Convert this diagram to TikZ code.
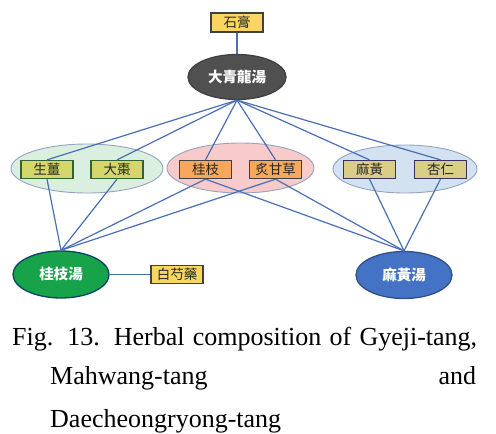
\documentclass[tikz,border=0pt]{standalone}
\usepackage{fontspec}
\setmainfont{Liberation Serif}
\newfontfamily\cjk{Noto Sans CJK TC}
\usetikzlibrary{shapes.geometric}
\definecolor{linkblue}{HTML}{4A6FB5}
\definecolor{goldfill}{HTML}{FAD660}
\definecolor{olivefill}{HTML}{D5D66C}
\definecolor{orangefill}{HTML}{F7A85C}
\definecolor{khakifill}{HTML}{D9CD88}
\definecolor{grpgreen}{HTML}{DAEFE0}
\definecolor{grppink}{HTML}{F8CACA}
\definecolor{grpblue}{HTML}{D2E2F1}
\definecolor{grpborder}{HTML}{94A3C2}
\definecolor{darkgray}{HTML}{505050}
\definecolor{gyeji}{HTML}{17A34A}
\definecolor{mahwang}{HTML}{4472C4}
\begin{document}
\begin{tikzpicture}[x=1pt,y=-1pt,
  herbbox/.style={draw=#1, line width=1.3pt, minimum width=52pt, minimum height=18pt,
    inner sep=0pt, text=black!85, font=\cjk\fontsize{13.5}{13.5}\selectfont},
  groupell/.style={ellipse, draw=grpborder, line width=0.9pt, inner sep=0pt},
  formula/.style={ellipse, line width=1.3pt, text=white, inner sep=0pt,
    minimum width=96pt, minimum height=47pt, font=\cjk\bfseries\fontsize{14.5}{14.5}\selectfont},
  link/.style={draw=linkblue, line width=1.2pt},
  caption/.style={inner sep=0pt, anchor=base west, font=\fontsize{26}{26}\selectfont}]
\fill[white] (0,0) rectangle (496,434);
\useasboundingbox (0,0) rectangle (496,434);
% group ellipses
\node[groupell, fill=grpgreen, minimum width=152pt, minimum height=49pt] (gL) at (87,168.5) {};
\node[groupell, fill=grppink, minimum width=147pt, minimum height=50pt] (gM) at (240.5,168) {};
\node[groupell, fill=grpblue, minimum width=144pt, minimum height=48pt] (gR) at (405,169) {};
% formulas
\node[formula, fill=darkgray, draw=black!75, minimum width=98pt, minimum height=45pt] (dq) at (237,77) {大青龍湯};
\node[formula, fill=gyeji, draw=black!40!gyeji!70!blue] (gj) at (61,274.5) {桂枝湯};
\node[formula, fill=mahwang, draw=mahwang!70!black] (mh) at (404,275) {麻黃湯};
% herbs
\node[herbbox=black!75, fill=goldfill, minimum height=19pt] (sk) at (237,22.5) {石膏};
\node[herbbox=black!70!green!60!gray, fill=olivefill] (sj) at (47,169.5) {生薑};
\node[herbbox=black!70!green!60!gray, fill=olivefill] (dz) at (117,169.5) {大棗};
\node[herbbox=black!75, fill=orangefill] (gz) at (205.5,169.5) {桂枝};
\node[herbbox=black!75, fill=orangefill] (gc) at (275.5,169.5) {炙甘草};
\node[herbbox=black!70!blue!60!gray, fill=khakifill] (mg) at (369.5,169.5) {麻黃};
\node[herbbox=black!70!blue!60!gray, fill=khakifill] (xr) at (440.5,169.5) {杏仁};
\node[herbbox=black!75, fill=goldfill] (bs) at (177,274.5) {白芍藥};
% links
\draw[link] (sk.south) -- (dq.north);
\foreach \h in {sj,dz,gz,gc,mg,xr} \draw[link] (dq.south) -- (\h.north);
\foreach \h in {sj,dz,gz,gc} \draw[link] (gj.north) -- (\h.south);
\foreach \h in {gz,gc,mg,xr} \draw[link] (mh.north) -- (\h.south);
\draw[link] (gj.east) -- (bs.west);
% caption
\node[caption] (c1) at (12,345) {\makebox[465pt][s]{Fig. 13. Herbal composition of Gyeji-tang,}};
\node[caption] (c2) at (50,384) {\makebox[426pt][s]{Mahwang-tang\hfill and}};
\node[caption] (c3) at (50,427) {Daecheongryong-tang};
\end{tikzpicture}
\end{document}
